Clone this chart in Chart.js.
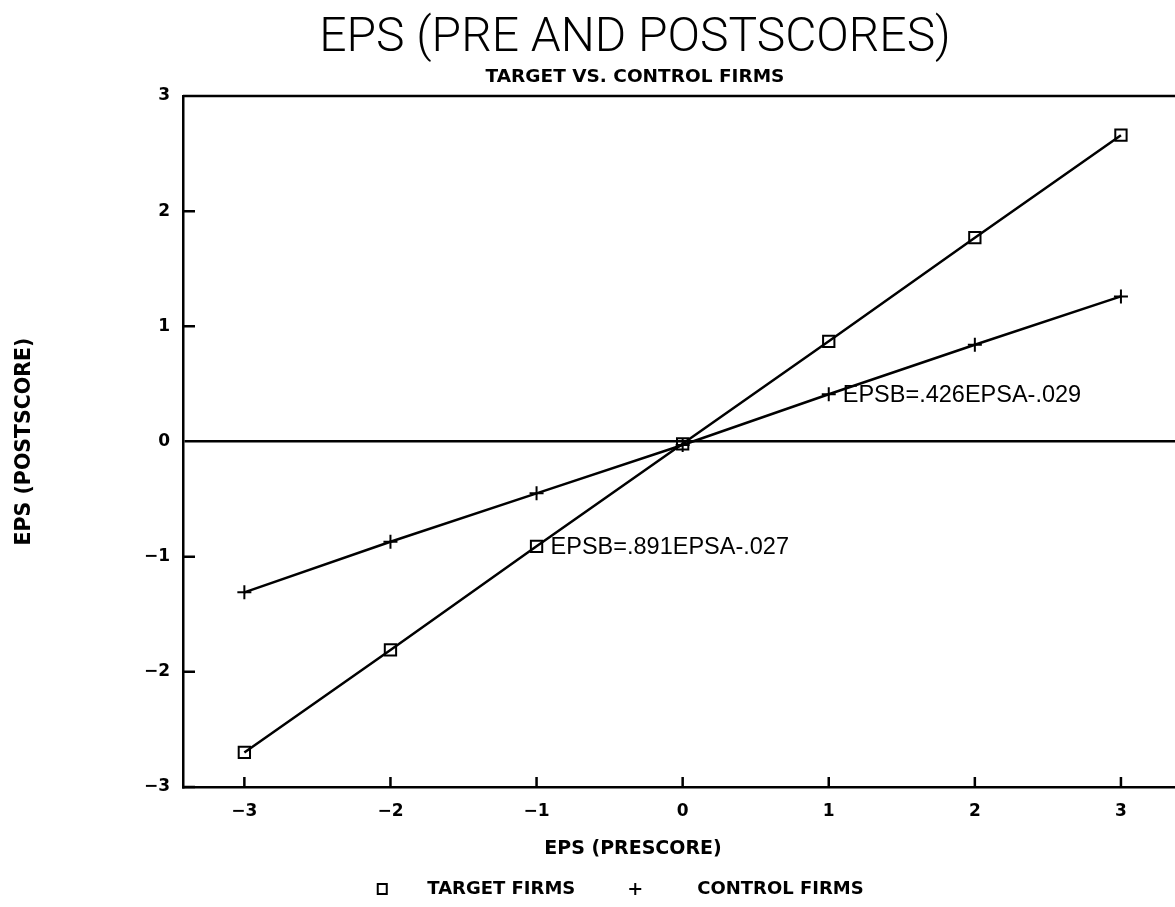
<!DOCTYPE html>
<html>
<head>
<meta charset="utf-8">
<title>EPS (PRE AND POSTSCORES)</title>
<script src="https://cdn.jsdelivr.net/npm/chart.js@4.4.0/dist/chart.umd.min.js"></script>
<style>
  html, body { margin: 0; padding: 0; background: #fff; overflow: hidden; }
  /* the plot frame runs off the right edge of the scan, so the canvas is a bit wider than the page */
  #wrap { width: 1175px; height: 907px; overflow: hidden; }
</style>
</head>
<body>
<div id="wrap"><canvas id="eps" width="1185" height="907"></canvas></div>
<script>
// values
const prescore = [-3, -2, -1, 0, 1, 2, 3];
const targetPost = [-2.70, -1.81, -0.91, -0.02, 0.87, 1.77, 2.66];
const controlPost = [-1.31, -0.87, -0.45, -0.03, 0.41, 0.84, 1.26];
const seriesNames = ['TARGET FIRMS', 'CONTROL FIRMS'];
const fitLabels = ['EPSB=.891EPSA-.027', 'EPSB=.426EPSA-.029'];
const fitAt = [-1, 1]; // prescore where each fit label hangs
const chartTitle = 'EPS (PRE AND POSTSCORES)';
const chartSubtitle = 'TARGET VS. CONTROL FIRMS';
const xTitle = 'EPS (PRESCORE)';
const yTitle = 'EPS (POSTSCORE)';

const PLAIN = '"Liberation Sans", Arial, sans-serif';
const BOLD = '"DejaVu Sans", sans-serif';
const minus = v => (v < 0 ? '\u2212' + Math.abs(v) : String(v));

// frame, inward ticks, fit labels, titles and legend
const plotterBits = {
  id: 'plotterBits',
  afterDraw(chart) {
    const { ctx, chartArea: a, scales: { x, y } } = chart;
    ctx.save();
    ctx.strokeStyle = '#000';
    ctx.fillStyle = '#000';
    ctx.lineWidth = 2.5;
    ctx.beginPath();
    ctx.moveTo(a.left, a.top);
    ctx.lineTo(a.right, a.top);
    x.ticks.forEach(t => {
      const px = x.getPixelForValue(t.value);
      ctx.moveTo(px, a.bottom);
      ctx.lineTo(px, a.bottom - 10);
    });
    y.ticks.forEach(t => {
      if (t.value === 0) return;
      const py = y.getPixelForValue(t.value);
      ctx.moveTo(a.left, py);
      ctx.lineTo(a.left + 12, py);
    });
    ctx.stroke();

    // regression labels next to a point
    ctx.font = '23.5px ' + PLAIN;
    ctx.textAlign = 'left';
    ctx.textBaseline = 'middle';
    fitLabels.forEach((txt, i) => {
      const el = chart.getDatasetMeta(i).data[prescore.indexOf(fitAt[i])];
      ctx.fillText(txt, el.x + 14, el.y + 1);
    });

    // titles
    const cx = 635;
    ctx.textAlign = 'center';
    ctx.font = '300 48px Roboto, sans-serif';
    ctx.fillText(chartTitle, cx, 39);
    ctx.font = 'bold 18.5px ' + BOLD;
    ctx.fillText(chartSubtitle, cx, 77);
    ctx.font = 'bold 19px ' + BOLD;
    ctx.fillText(xTitle, 633, 849);

    // legend
    ctx.font = 'bold 18px ' + BOLD;
    ctx.textAlign = 'left';
    const ly = 889;
    const w0 = ctx.measureText(seriesNames[0]).width;
    const w1 = ctx.measureText(seriesNames[1]).width;
    const total = 45 + w0 + 60 + 62 + w1;
    let lx = 623 - total / 2;
    ctx.lineWidth = 2;
    ctx.strokeRect(lx - 4.5, ly - 5, 9, 10);
    ctx.fillText(seriesNames[0], lx + 45, ly);
    lx += 45 + w0 + 60;
    ctx.beginPath();
    ctx.moveTo(lx - 6, ly); ctx.lineTo(lx + 6, ly);
    ctx.moveTo(lx, ly - 6); ctx.lineTo(lx, ly + 6);
    ctx.stroke();
    ctx.fillText(seriesNames[1], lx + 62, ly);
    ctx.restore();
  }
};

const toPoints = ys => prescore.map((v, i) => ({ x: v, y: ys[i] }));

new Chart(document.getElementById('eps'), {
  type: 'scatter',
  data: {
    datasets: [
      {
        label: seriesNames[0],
        data: toPoints(targetPost),
        showLine: true,
        borderColor: '#000',
        borderWidth: 2.5,
        pointStyle: 'rect',
        pointRadius: 8,
        pointBorderWidth: 2,
        pointBorderColor: '#000',
        pointBackgroundColor: 'rgba(0,0,0,0)'
      },
      {
        label: seriesNames[1],
        data: toPoints(controlPost),
        showLine: true,
        borderColor: '#000',
        borderWidth: 2.5,
        pointStyle: 'cross',
        pointRadius: 7,
        pointBorderWidth: 2,
        pointBorderColor: '#000'
      }
    ]
  },
  options: {
    responsive: false,
    animation: false,
    layout: { padding: { top: 96, bottom: 80, left: 0, right: 0 } },
    plugins: {
      legend: { display: false },
      title: { display: false },
      tooltip: { enabled: false }
    },
    scales: {
      x: {
        type: 'linear',
        min: -3.42,
        max: 3.37,
        afterFit: s => { s.height = 40; },
        grid: { display: false, drawTicks: false },
        border: { display: true, color: '#000', width: 2.5 },
        ticks: {
          stepSize: 1,
          includeBounds: false,
          padding: 14,
          color: '#000',
          font: { family: BOLD, size: 17, weight: 'bold' },
          callback: v => (Number.isInteger(v) ? minus(v) : '')
        }
      },
      y: {
        type: 'linear',
        min: -3,
        max: 3,
        afterFit: s => { s.width = 183; },
        grid: {
          drawTicks: false,
          lineWidth: 2.5,
          color: c => (c.tick && c.tick.value === 0 ? '#000' : 'rgba(0,0,0,0)')
        },
        border: { display: true, color: '#000', width: 2.5 },
        title: {
          display: true,
          text: yTitle,
          color: '#000',
          padding: { top: 12, bottom: 0 },
          font: { family: BOLD, size: 20.5, weight: 'bold' }
        },
        ticks: {
          stepSize: 1,
          padding: 13,
          color: '#000',
          font: { family: BOLD, size: 17, weight: 'bold' },
          callback: v => minus(v)
        }
      }
    }
  },
  plugins: [plotterBits]
});
</script>
</body>
</html>
